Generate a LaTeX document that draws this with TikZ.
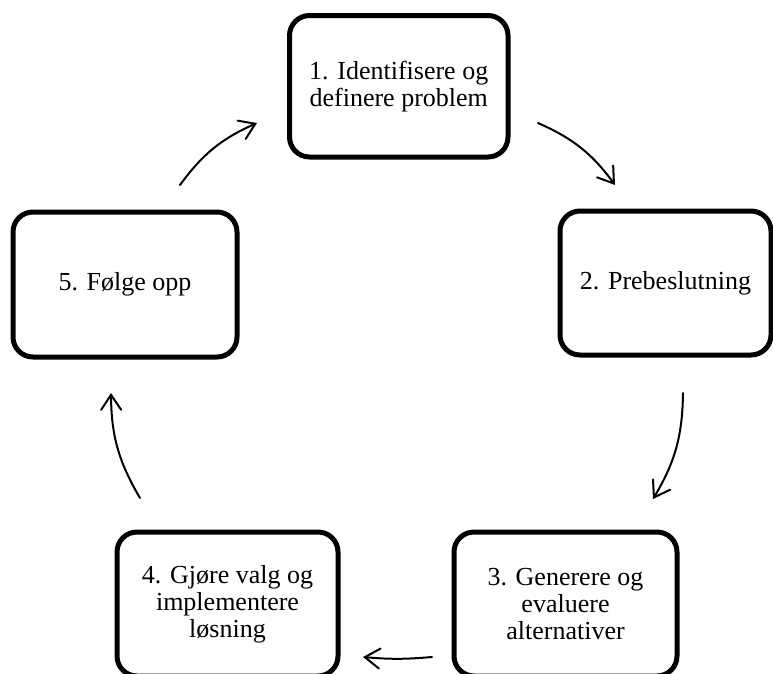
\documentclass[tikz,border=0pt]{standalone}
\usepackage{fontspec}
\setmainfont{Liberation Serif}
\usetikzlibrary{arrows.meta}
\begin{document}
\begin{tikzpicture}[x=1pt,y=-1pt,
  box/.style={draw, line width=5pt, rounded corners=20pt, inner sep=0pt,
    align=center, font=\fontsize{26}{27}\selectfont},
  cyc/.style={line width=2pt, line cap=round, -{Straight Barb[length=15pt,width=20pt,line cap=round]}}]
\useasboundingbox (0,0) rectangle (773,673);
\clip (0,0) rectangle (773,673);
\node[box, minimum width=218.5pt, minimum height=141.5pt] (b1) at (398.75,86.25) {1. Identifisere og\\definere problem};
\node[box, minimum width=211pt, minimum height=144pt] (b2) at (665.5,283) {2. Prebeslutning};
\node[box, minimum width=223pt, minimum height=144pt] (b3) at (565.5,604) {3. Generere og\\evaluere\\alternativer};
\node[box, minimum width=221pt, minimum height=144pt] (b4) at (227.5,604) {4. Gjøre valg og\\implementere\\løsning};
\node[box, minimum width=224pt, minimum height=145pt] (b5) at (125,284.5) {5. Følge opp};
\coordinate (a1s) at (180,185);
\coordinate (a1e) at (257,123);
\coordinate (a2s) at (538,123);
\coordinate (a2e) at (615,185);
\coordinate (a3s) at (683,393);
\coordinate (a3e) at (653,499);
\coordinate (a4s) at (432,657);
\coordinate (a4e) at (363,657);
\coordinate (a5s) at (140,498);
\coordinate (a5e) at (111,393);
\draw[cyc] (a1s) to[bend left=15] (a1e);
\draw[cyc] (a2s) to[bend left=15] (a2e);
\draw[cyc] (a3s) to[bend left=15] (a3e);
\draw[cyc] (a4s) to[bend left=5] (a4e);
\draw[cyc] (a5s) to[bend left=15] (a5e);
\end{tikzpicture}
\end{document}
